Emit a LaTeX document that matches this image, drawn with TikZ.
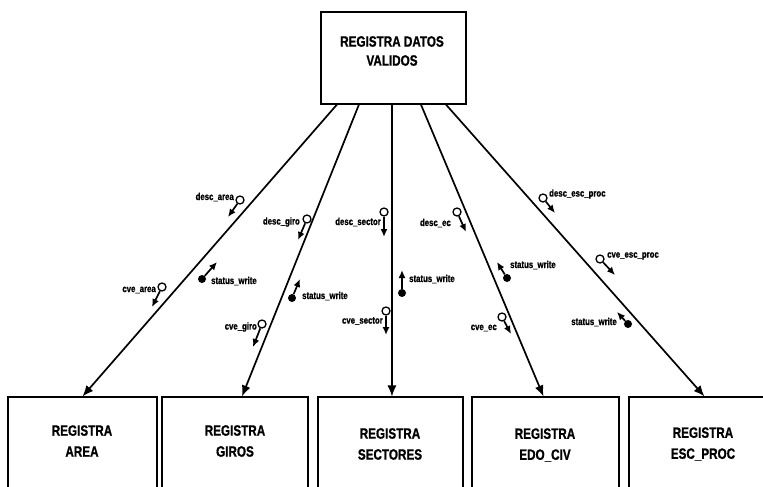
\documentclass[tikz,border=0pt]{standalone}
\usepackage{fontspec}
\setmainfont{Liberation Sans}
\newfontfamily\boxfont{Liberation Sans}[FakeStretch=0.78, BoldFeatures={FakeStretch=0.78, FakeBold=0.9}]
\usetikzlibrary{arrows.meta}

% one data/control couple: marker, arrow, label
\newcommand\couple[7]{%
  \node[#4] (#1c) at (#2) {};
  \coordinate (#1t) at (#3);
  \draw[couplearrow] (#1c) -- (#1t);
  \node[couplelabel, anchor=#5] (#1l) at (#6) {#7};
}

\begin{document}
\begin{tikzpicture}[x=1pt,y=-1pt,
  procbox/.style={draw, line width=1.1pt, inner sep=0pt},
  proclabel/.style={font=\boxfont\bfseries\fontsize{15}{21}\selectfont, align=center, inner sep=0pt},
  flow/.style={line width=1.7pt, -{Latex[length=11pt,width=9pt]}},
  datadot/.style={circle, draw, line width=1.3pt, fill=white, minimum size=8pt, inner sep=0pt},
  ctrldot/.style={circle, fill=black, minimum size=8pt, inner sep=0pt},
  couplearrow/.style={line width=1.7pt, -{Latex[length=8pt,width=7pt]}},
  couplelabel/.style={font=\boxfont\bfseries\fontsize{10}{12}\selectfont, inner sep=0pt}
]
\useasboundingbox (0,0) rectangle (763,487);
\fill[white] (0,0) rectangle (763,487);

% top process
\node[procbox, minimum width=145pt, minimum height=92pt] (top) at (393.5,58) {};
\node[proclabel, font=\boxfont\bfseries\fontsize{15}{19}\selectfont] (toplbl) at (392,51) {REGISTRA DATOS\\VALIDOS};

% lower processes (run off the bottom edge)
\node[procbox, minimum width=149pt, minimum height=104pt] (area) at (82.5,449) {};
\node[procbox, minimum width=146pt, minimum height=104pt] (giros) at (235,449) {};
\node[procbox, minimum width=145pt, minimum height=104pt] (sectores) at (390.5,449) {};
\node[procbox, minimum width=147pt, minimum height=104pt] (edo) at (545.5,449) {};
\node[procbox, minimum width=151pt, minimum height=104pt] (esc) at (704.5,449) {};

\node[proclabel] (arealbl) at (82,441) {REGISTRA\\AREA};
\node[proclabel] (giroslbl) at (235,441) {REGISTRA\\GIROS};
\node[proclabel] (sectoreslbl) at (390,444) {REGISTRA\\SECTORES};
\node[proclabel] (edolbl) at (545,445) {REGISTRA\\EDO\_CIV};
\node[proclabel] (esclbl) at (703,444) {REGISTRA\\ESC\_PROC};

% calls from the top process
\coordinate (s1) at ([xshift=16.5pt]top.south west);
\coordinate (s2) at ([xshift=38.5pt]top.south west);
\coordinate (s3) at ([xshift=71.5pt]top.south west);
\coordinate (s4) at ([xshift=100.5pt]top.south west);
\coordinate (s5) at ([xshift=125.5pt]top.south west);

\draw[flow] (s1) -- (area.north);
\draw[flow] (s2) -- ([xshift=7pt]giros.north);
\draw[flow, line width=1.1pt] (s3) -- (sectores.north -| s3);
\draw[flow] (s4) -- ([xshift=-2pt]edo.north);
\draw[flow] (s5) -- (esc.north);

% couples on the AREA call
\couple{da}{240,200}{228,217}{datadot}{east}{234,197}{desc\_area}
\couple{sa}{202,279}{217,262}{ctrldot}{west}{211,281}{status\_write}
\couple{ca}{162,287}{152,307}{datadot}{east}{156,290}{cve\_area}

% couples on the GIROS call
\couple{dg}{307,219}{298,240}{datadot}{east}{300,222}{desc\_giro}
\couple{sg}{292,298}{300,279}{ctrldot}{west}{302,296}{status\_write}
\couple{cg}{262,324}{253,347}{datadot}{east}{257,327}{cve\_giro}

% couples on the SECTORES call
\couple{ds}{384,212}{384,237}{datadot}{east}{381,222}{desc\_sector}
\couple{ss}{402,293}{402,270}{ctrldot}{west}{409,279}{status\_write}
\couple{cs}{386,311}{386,335}{datadot}{east}{383,321}{cve\_sector}

% couples on the EDO_CIV call
\couple{de}{457,212}{466,232}{datadot}{east}{451,223}{desc\_ec}
\couple{se}{507,278}{497,262}{ctrldot}{west}{510,265}{status\_write}
\couple{ce}{502,317}{511,334}{datadot}{east}{497,328}{cve\_ec}

% couples on the ESC_PROC call
\couple{dp}{543,198}{555,213}{datadot}{west}{549,194}{desc\_esc\_proc}
\couple{cp}{600,259}{615,275}{datadot}{west}{607,256}{cve\_esc\_proc}
\couple{sp}{628,324}{617,312}{ctrldot}{east}{617,322}{status\_write}
\end{tikzpicture}
\end{document}
